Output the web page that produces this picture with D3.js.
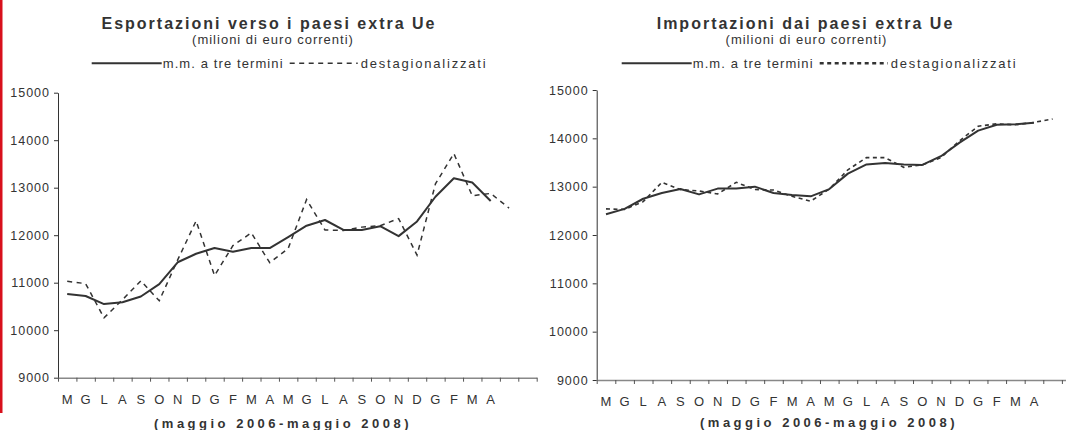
<!DOCTYPE html>
<html>
<head>
<meta charset="UTF-8">
<script src="https://d3js.org/d3.v7.min.js"></script>
<style>
  body { margin: 0; background: #fff; }
  svg { display: block; }
  text { font-family: "Liberation Sans", Arial, sans-serif; fill: #333; }
</style>
</head>
<body>
<svg></svg>
<script>
const width = 1066;
const height = 430;

// maggio 2006 - giugno 2008, last two months unlabelled
const monthLabels = ["M","G","L","A","S","O","N","D","G","F","M","A",
                     "M","G","L","A","S","O","N","D","G","F","M","A","",""];
const yTicks = [9000, 10000, 11000, 12000, 13000, 14000, 15000];

// Esportazioni (milioni di euro)
const exportMA = [10760, 10720, 10550, 10590, 10710, 10970, 11430, 11610, 11730, 11650, 11730, 11730,
                  11960, 12200, 12320, 12110, 12110, 12190, 11980, 12290, 12810, 13200, 13110, 12720];
const exportSA = [11030, 10980, 10260, 10640, 11040, 10620, 11480, 12300, 11150, 11780, 12050, 11420,
                  11720, 12750, 12110, 12100, 12170, 12200, 12350, 11580, 13080, 13720, 12830, 12880, 12570];

// Importazioni (milioni di euro)
const importMA = [12430, 12540, 12750, 12870, 12950, 12840, 12960, 12960, 13000, 12870, 12830, 12800,
                  12950, 13270, 13460, 13490, 13460, 13450, 13630, 13910, 14160, 14280, 14290, 14320];
const importSA = [12540, 12530, 12690, 13090, 12940, 12910, 12850, 13090, 12940, 12930, 12800, 12700,
                  12950, 13350, 13600, 13600, 13400, 13450, 13600, 13950, 14250, 14300, 14280, 14330, 14400];

const panels = [
  {title: "Esportazioni verso i paesi extra Ue", ma: exportMA, sa: exportSA,
   x0: 58, x1: 536.7, y0: 377.7, y1: 92.7, titleX: 269, subX: 273, legendX: 91.7, footX: 283, footY: 428.3,
   labelY: 17.5, dash: "5,4.5", dashW: 1.5, legendDashW: 1.5},
  {title: "Importazioni dai paesi extra Ue", ma: importMA, sa: importSA,
   x0: 596.7, x1: 1080.5, y0: 380, y1: 90, titleX: 805.5, subX: 806.5, legendX: 621.7, footX: 829, footY: 426.7,
   labelY: 17.2, dash: "4,3.5", dashW: 1.6, legendDashW: 2.6}
];

const svg = d3.select("svg")
    .attr("width", width)
    .attr("height", height)
    .attr("viewBox", [0, 0, width, height]);

// red margin bar
svg.append("rect")
    .attr("x", 0).attr("y", 0)
    .attr("width", 2.5).attr("height", 413)
    .attr("fill", "#d8101c");

panels.forEach(p => {
  const idx = d3.range(monthLabels.length);

  const x = d3.scaleBand()
      .domain(idx)
      .range([p.x0, p.x1]);

  const edges = d3.scaleLinear()
      .domain([0, monthLabels.length])
      .range([p.x0, p.x1]);

  const y = d3.scaleLinear()
      .domain([9000, 15000])
      .range([p.y0, p.y1]);

  const g = svg.append("g");

  // titles
  g.append("text")
      .attr("x", p.titleX).attr("y", 29.3)
      .attr("text-anchor", "middle")
      .attr("font-size", 16)
      .attr("font-weight", "bold")
      .attr("letter-spacing", 2)
      .text(p.title);

  g.append("text")
      .attr("x", p.subX).attr("y", 44.3)
      .attr("text-anchor", "middle")
      .attr("font-size", 13)
      .attr("letter-spacing", 1)
      .text("(milioni di euro correnti)");

  // legend
  const lg = g.append("g").attr("transform", `translate(${p.legendX},0)`);
  lg.append("line")
      .attr("x1", 0).attr("x2", 70).attr("y1", 63.3).attr("y2", 63.3)
      .attr("stroke", "#333").attr("stroke-width", 2);
  lg.append("text")
      .attr("x", 71).attr("y", 67.6)
      .attr("font-size", 13)
      .attr("letter-spacing", 1.1)
      .text("m.m. a tre termini");
  lg.append("line")
      .attr("x1", 198).attr("x2", 266).attr("y1", 63.3).attr("y2", 63.3)
      .attr("stroke", "#333").attr("stroke-width", p.legendDashW)
      .attr("stroke-dasharray", p.dash);
  lg.append("text")
      .attr("x", 269).attr("y", 67.6)
      .attr("font-size", 13)
      .attr("letter-spacing", 1.8)
      .text("destagionalizzati");

  // y axis
  g.append("g")
      .attr("transform", `translate(${p.x0},0)`)
      .call(d3.axisLeft(y).tickValues(yTicks).tickSize(4).tickSizeOuter(0).tickPadding(4).tickFormat(d3.format("d")))
      .call(a => a.select(".domain").attr("stroke", "#333"))
      .call(a => a.selectAll(".tick line").attr("stroke", "#333"))
      .call(a => a.selectAll(".tick text")
          .attr("font-size", 12.5)
          .attr("letter-spacing", 1)
          .attr("font-family", null)
          .attr("fill", "#333"));

  // x axis: boundary ticks
  g.append("g")
      .attr("transform", `translate(0,${p.y0})`)
      .call(d3.axisBottom(edges).tickValues(d3.range(monthLabels.length + 1)).tickSize(4).tickSizeOuter(0).tickFormat(""))
      .call(a => a.select(".domain").attr("stroke", "#888").attr("stroke-width", 1.6))
      .call(a => a.selectAll(".tick line").attr("stroke", "#555"));

  // x axis: month labels
  g.append("g")
      .attr("transform", `translate(0,${p.y0})`)
      .call(d3.axisBottom(x).tickSize(0).tickPadding(p.labelY).tickFormat(i => monthLabels[i]))
      .call(a => a.select(".domain").remove())
      .call(a => a.selectAll(".tick text")
          .attr("font-size", 13)
          .attr("font-family", null)
          .attr("fill", "#333"));

  g.append("text")
      .attr("x", p.footX).attr("y", p.footY)
      .attr("text-anchor", "middle")
      .attr("font-size", 13)
      .attr("font-weight", "bold")
      .attr("letter-spacing", 3.5)
      .text("(maggio 2006-maggio 2008)");

  const line = d3.line()
      .x((d, i) => x(i) + x.bandwidth() / 2)
      .y(d => y(d));

  g.append("path")
      .datum(p.sa)
      .attr("fill", "none")
      .attr("stroke", "#333")
      .attr("stroke-width", p.dashW)
      .attr("stroke-dasharray", p.dash)
      .attr("d", line);

  g.append("path")
      .datum(p.ma)
      .attr("fill", "none")
      .attr("stroke", "#333")
      .attr("stroke-width", 2)
      .attr("stroke-linejoin", "round")
      .attr("d", line);
});
</script>
</body>
</html>
